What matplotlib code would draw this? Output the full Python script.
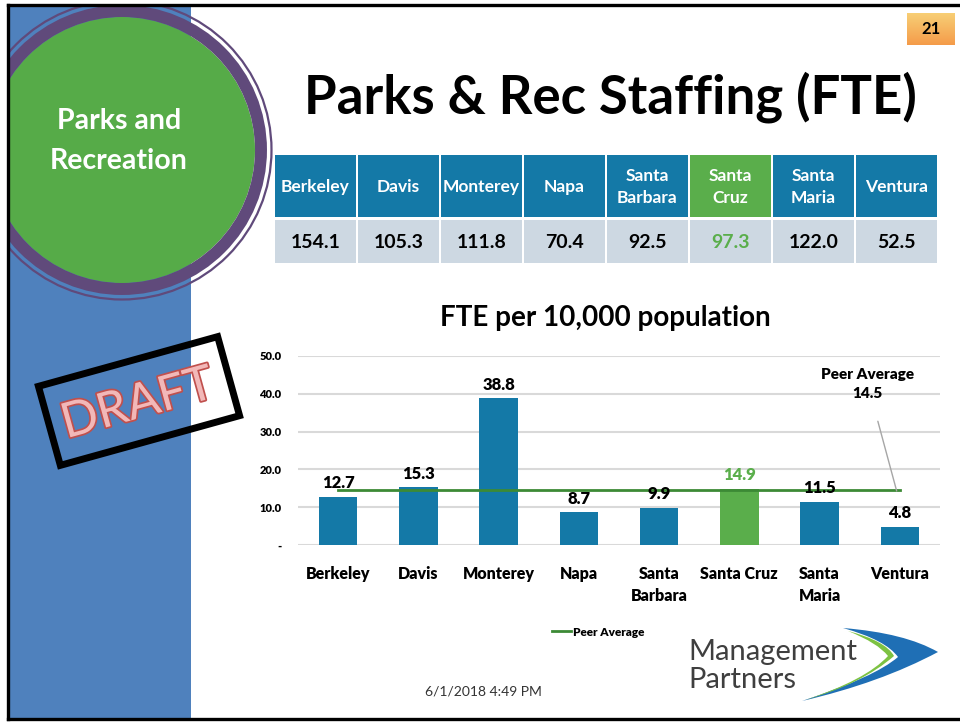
import matplotlib.pyplot as plt
import matplotlib.patheffects as pe
import numpy as np
from matplotlib.patches import Circle, PathPatch, Rectangle
from matplotlib.path import Path
from matplotlib.transforms import Affine2D

plt.rcParams["font.family"] = ["Lato", "DejaVu Sans"]

# --- data -------------------------------------------------------------
table_headers = ["Berkeley", "Davis", "Monterey", "Napa", "Santa\nBarbara",
                 "Santa\nCruz", "Santa\nMaria", "Ventura"]
total_fte = [154.1, 105.3, 111.8, 70.4, 92.5, 97.3, 122.0, 52.5]

cities = ["Berkeley", "Davis", "Monterey", "Napa", "Santa\nBarbara",
          "Santa Cruz", "Santa\nMaria", "Ventura"]
fte_per_10k = [12.7, 15.3, 38.8, 8.7, 9.9, 14.9, 11.5, 4.8]
peer_avg = 14.5
highlight = "Santa Cruz"

y_ticks = [0, 10, 20, 30, 40, 50]
y_tick_labels = ["-", "10.0", "20.0", "30.0", "40.0", "50.0"]

BLUE = "#1479A7"
GREEN = "#5AAE4B"
LINE_GREEN = "#3C8A35"
HEAVY = "heavy"

# --- slide background (pixel coordinates) -----------------------------
fig = plt.figure(figsize=(9.6, 7.23), dpi=100)
bg = fig.add_axes([0, 0, 1, 1])
bg.axis("off")

clip = Rectangle((8, 5), 952, 714, transform=bg.transData)

bg.add_patch(Rectangle((8, 5), 183, 714, color="#4F81BD", lw=0))
for patch in [Circle((122, 150), 133, color="#56AB48", lw=0),
              Circle((122, 150), 139, fill=False, ec="#604A7B", lw=8.6),
              Circle((122, 150), 149.5, fill=False, ec="#604A7B", lw=1.6)]:
    bg.add_patch(patch)
    patch.set_clip_path(clip)
bg.text(119, 141, "Parks and\nRecreation", color="white", fontsize=20.5,
        fontweight="bold", ha="center", va="center", linespacing=1.62)

# border lines
bg.plot([8, 960], [5, 5], color="black", lw=2.4)
bg.plot([8, 8], [5, 719], color="black", lw=2.4)
bg.plot([8, 960], [719, 719], color="black", lw=2.4)

# page number box
grad = np.linspace(0, 1, 50)[:, None, None]
top_c = np.array([0.97, 0.81, 0.46])
bot_c = np.array([0.96, 0.61, 0.29])
bg.imshow(top_c * (1 - grad) + bot_c * grad, extent=[907, 955, 45, 13],
          aspect="auto", origin="upper")
bg.text(931, 29, "21", fontsize=12, fontweight="bold", ha="center", va="center")

bg.text(610, 97, "Parks & Rec Staffing (FTE)", fontsize=38, fontweight="bold",
        ha="center", va="center")

# table
col_w = 83
for i, (name, val) in enumerate(zip(table_headers, total_fte)):
    x0 = 274 + i * col_w
    is_hl = name.replace("\n", " ") == highlight
    bg.add_patch(Rectangle((x0 + 1, 155), col_w - 2, 62,
                           color=GREEN if is_hl else BLUE, lw=0))
    bg.add_patch(Rectangle((x0 + 1, 220), col_w - 2, 43, color="#CDD8E2", lw=0))
    bg.text(x0 + col_w / 2, 187, name, color="white", fontsize=12.5,
            fontweight="bold", ha="center", va="center", linespacing=1.45)
    bg.text(x0 + col_w / 2, 242, f"{val:.1f}", color=GREEN if is_hl else "black",
            fontsize=14, fontweight="bold", ha="center", va="center")

bg.text(605, 318, "FTE per 10,000 population", fontsize=20, fontweight="bold",
        ha="center", va="center")

# DRAFT stamp
cx, cy = 139, 401
rot = Affine2D().rotate_deg_around(cx, cy, -15.5) + bg.transData
bg.add_patch(Rectangle((cx - 93, cy - 41), 186, 82, fill=False, ec="black",
                       lw=5, transform=rot))
bg.text(cx - 1, cy + 3, "DRAFT", fontsize=35, color="#F2B8B8", rotation=15.5,
        ha="center", va="center", rotation_mode="anchor",
        path_effects=[pe.withStroke(linewidth=2.5, foreground="#C0504D")])

# logo
bg.text(688, 652, "Management", fontsize=21, color="#3F3F3F", va="center")
bg.text(688, 680, "Partners", fontsize=21, color="#3F3F3F", va="center")
Q = Path.CURVE3
blue_path = Path([(843, 628), (905, 633), (938, 652), (880, 683), (802, 701),
                  (875, 677), (898, 657), (886, 640), (843, 628)],
                 [Path.MOVETO, Q, Q, Q, Q, Q, Q, Q, Q])
green_path = Path([(848, 631), (886, 641), (894, 656), (862, 684), (805, 700),
                   (866, 680), (888, 656), (878, 643), (848, 631)],
                  [Path.MOVETO, Q, Q, Q, Q, Q, Q, Q, Q])
bg.add_patch(PathPatch(blue_path, fc="#1F6FB5", ec="none"))
bg.add_patch(PathPatch(green_path, fc="#7DC242", ec="none"))

bg.text(483, 691, "6/1/2018 4:49 PM", fontsize=10, color="#333333",
        ha="center", va="center")

bg.set_xlim(0, 960)
bg.set_ylim(723, 0)

# --- chart ---------------------------------------------------------------
ax = fig.add_axes([298 / 960, (723 - 545) / 723, 642 / 960, (545 - 356) / 723])
ax.patch.set_alpha(0)
x = np.arange(len(cities))
colors = [GREEN if c == highlight else BLUE for c in cities]
ax.bar(x, fte_per_10k, width=0.48, color=colors, zorder=2)
ax.plot([x[0], x[-1]], [peer_avg, peer_avg], color=LINE_GREEN, lw=2,
        zorder=3, label="Peer Average")

for xi, v, c in zip(x, fte_per_10k, cities):
    ax.annotate(f"{v:.1f}", (xi, v), xytext=(0, 4), textcoords="offset points",
                ha="center", va="bottom", fontsize=12, fontweight=HEAVY,
                color=GREEN if c == highlight else "black")

ax.annotate(f"Peer Average\n{peer_avg}", xy=(6.96, peer_avg - 0.2),
            xytext=(6.6, 42.6), ha="center", va="center", fontsize=11,
            fontweight=HEAVY, linespacing=1.5,
            arrowprops=dict(arrowstyle="-", color="#A6A6A6", lw=1,
                            shrinkA=14, shrinkB=0))

ax.set_xlim(-0.5, len(cities) - 0.5)
ax.set_ylim(0, 50)
ax.set_yticks(y_ticks)
ax.set_yticklabels(y_tick_labels, fontsize=8, fontweight=HEAVY)
ax.set_xticks(x)
ax.set_xticklabels(cities, fontsize=11.5, fontweight=HEAVY)
for lbl in ax.get_xticklabels():
    lbl.set_linespacing(1.45)
    lbl.set_va("top")
ax.tick_params(axis="x", length=0, pad=15)
ax.tick_params(axis="y", length=0, pad=12)
ax.yaxis.grid(True, color="#D9D9D9", lw=1.5, zorder=0)
ax.set_axisbelow(True)
for s in ax.spines.values():
    s.set_visible(False)

fig.legend(loc="center", bbox_to_anchor=(598 / 960, 1 - 632 / 723),
           frameon=False, handlelength=1.6, handletextpad=0.2,
           prop={"weight": HEAVY, "size": 8.5})

fig.savefig("out.png", dpi=100)
